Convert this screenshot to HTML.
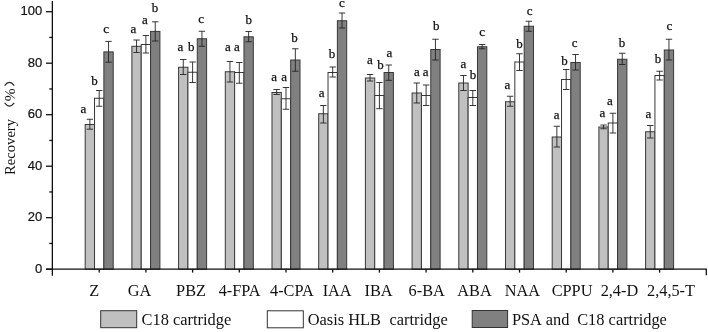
<!DOCTYPE html><html><head><meta charset="utf-8"><style>html,body{margin:0;padding:0;background:#fff;overflow:hidden;}svg{display:block;filter:blur(0.3px);}</style></head><body>
<svg width="708" height="332" viewBox="0 0 708 332">
<rect width="708" height="332" fill="#fff"/>
<g stroke="#383838" stroke-width="1">
<rect x="85.19" y="124.50" width="9.34" height="144.70" fill="#c0c0c0"/>
<rect x="94.53" y="98.25" width="9.34" height="170.95" fill="#ffffff"/>
<rect x="103.87" y="51.90" width="9.34" height="217.30" fill="#808080"/>
<rect x="131.89" y="46.30" width="9.34" height="222.90" fill="#c0c0c0"/>
<rect x="141.23" y="44.50" width="9.34" height="224.70" fill="#ffffff"/>
<rect x="150.57" y="31.40" width="9.34" height="237.80" fill="#808080"/>
<rect x="178.59" y="67.25" width="9.34" height="201.95" fill="#c0c0c0"/>
<rect x="187.93" y="72.25" width="9.34" height="196.95" fill="#ffffff"/>
<rect x="197.27" y="38.75" width="9.34" height="230.45" fill="#808080"/>
<rect x="225.29" y="71.75" width="9.34" height="197.45" fill="#c0c0c0"/>
<rect x="234.63" y="72.50" width="9.34" height="196.70" fill="#ffffff"/>
<rect x="243.97" y="36.80" width="9.34" height="232.40" fill="#808080"/>
<rect x="271.99" y="92.50" width="9.34" height="176.70" fill="#c0c0c0"/>
<rect x="281.33" y="98.75" width="9.34" height="170.45" fill="#ffffff"/>
<rect x="290.67" y="60.00" width="9.34" height="209.20" fill="#808080"/>
<rect x="318.69" y="113.75" width="9.34" height="155.45" fill="#c0c0c0"/>
<rect x="328.03" y="72.50" width="9.34" height="196.70" fill="#ffffff"/>
<rect x="337.37" y="20.75" width="9.34" height="248.45" fill="#808080"/>
<rect x="365.39" y="78.00" width="9.34" height="191.20" fill="#c0c0c0"/>
<rect x="374.73" y="95.50" width="9.34" height="173.70" fill="#ffffff"/>
<rect x="384.07" y="72.50" width="9.34" height="196.70" fill="#808080"/>
<rect x="412.09" y="93.00" width="9.34" height="176.20" fill="#c0c0c0"/>
<rect x="421.43" y="95.50" width="9.34" height="173.70" fill="#ffffff"/>
<rect x="430.77" y="49.50" width="9.34" height="219.70" fill="#808080"/>
<rect x="458.79" y="83.00" width="9.34" height="186.20" fill="#c0c0c0"/>
<rect x="468.13" y="97.50" width="9.34" height="171.70" fill="#ffffff"/>
<rect x="477.47" y="46.75" width="9.34" height="222.45" fill="#808080"/>
<rect x="505.49" y="101.75" width="9.34" height="167.45" fill="#c0c0c0"/>
<rect x="514.83" y="62.00" width="9.34" height="207.20" fill="#ffffff"/>
<rect x="524.17" y="26.25" width="9.34" height="242.95" fill="#808080"/>
<rect x="552.19" y="137.00" width="9.34" height="132.20" fill="#c0c0c0"/>
<rect x="561.53" y="79.50" width="9.34" height="189.70" fill="#ffffff"/>
<rect x="570.87" y="62.50" width="9.34" height="206.70" fill="#808080"/>
<rect x="598.89" y="127.00" width="9.34" height="142.20" fill="#c0c0c0"/>
<rect x="608.23" y="123.00" width="9.34" height="146.20" fill="#ffffff"/>
<rect x="617.57" y="59.25" width="9.34" height="209.95" fill="#808080"/>
<rect x="645.59" y="131.75" width="9.34" height="137.45" fill="#c0c0c0"/>
<rect x="654.93" y="75.50" width="9.34" height="193.70" fill="#ffffff"/>
<rect x="664.27" y="50.00" width="9.34" height="219.20" fill="#808080"/>
</g>
<g stroke="#222" stroke-width="0.9" fill="none">
<path d="M89.86 119.25V129.20M86.66 119.25H93.06M86.66 129.20H93.06"/>
<path d="M99.20 90.50V106.25M96.00 90.50H102.40M96.00 106.25H102.40"/>
<path d="M108.54 41.40V62.20M105.34 41.40H111.74M105.34 62.20H111.74"/>
<path d="M136.56 40.00V52.50M133.36 40.00H139.76M133.36 52.50H139.76"/>
<path d="M145.90 35.50V53.00M142.70 35.50H149.10M142.70 53.00H149.10"/>
<path d="M155.24 21.80V41.00M152.04 21.80H158.44M152.04 41.00H158.44"/>
<path d="M183.26 59.50V74.50M180.06 59.50H186.46M180.06 74.50H186.46"/>
<path d="M192.60 62.00V82.50M189.40 62.00H195.80M189.40 82.50H195.80"/>
<path d="M201.94 31.25V46.25M198.74 31.25H205.14M198.74 46.25H205.14"/>
<path d="M229.96 61.50V82.00M226.76 61.50H233.16M226.76 82.00H233.16"/>
<path d="M239.30 62.50V83.25M236.10 62.50H242.50M236.10 83.25H242.50"/>
<path d="M248.64 31.50V41.75M245.44 31.50H251.84M245.44 41.75H251.84"/>
<path d="M276.66 89.50V94.50M273.46 89.50H279.86M273.46 94.50H279.86"/>
<path d="M286.00 87.50V109.25M282.80 87.50H289.20M282.80 109.25H289.20"/>
<path d="M295.34 48.75V71.25M292.14 48.75H298.54M292.14 71.25H298.54"/>
<path d="M323.36 105.50V123.00M320.16 105.50H326.56M320.16 123.00H326.56"/>
<path d="M332.70 67.00V77.00M329.50 67.00H335.90M329.50 77.00H335.90"/>
<path d="M342.04 13.00V28.00M338.84 13.00H345.24M338.84 28.00H345.24"/>
<path d="M370.06 74.50V81.00M366.86 74.50H373.26M366.86 81.00H373.26"/>
<path d="M379.40 82.50V108.70M376.20 82.50H382.60M376.20 108.70H382.60"/>
<path d="M388.74 65.00V80.30M385.54 65.00H391.94M385.54 80.30H391.94"/>
<path d="M416.76 83.00V103.00M413.56 83.00H419.96M413.56 103.00H419.96"/>
<path d="M426.10 85.00V105.50M422.90 85.00H429.30M422.90 105.50H429.30"/>
<path d="M435.44 39.25V60.00M432.24 39.25H438.64M432.24 60.00H438.64"/>
<path d="M463.46 75.50V90.50M460.26 75.50H466.66M460.26 90.50H466.66"/>
<path d="M472.80 90.50V105.50M469.60 90.50H476.00M469.60 105.50H476.00"/>
<path d="M482.14 44.50V48.75M478.94 44.50H485.34M478.94 48.75H485.34"/>
<path d="M510.16 96.25V106.25M506.96 96.25H513.36M506.96 106.25H513.36"/>
<path d="M519.50 53.75V70.50M516.30 53.75H522.70M516.30 70.50H522.70"/>
<path d="M528.84 21.25V31.25M525.64 21.25H532.04M525.64 31.25H532.04"/>
<path d="M556.86 126.25V147.00M553.66 126.25H560.06M553.66 147.00H560.06"/>
<path d="M566.20 69.50V89.50M563.00 69.50H569.40M563.00 89.50H569.40"/>
<path d="M575.54 54.50V70.00M572.34 54.50H578.74M572.34 70.00H578.74"/>
<path d="M603.56 125.00V128.75M600.36 125.00H606.76M600.36 128.75H606.76"/>
<path d="M612.90 113.25V133.00M609.70 113.25H616.10M609.70 133.00H616.10"/>
<path d="M622.24 53.25V64.50M619.04 53.25H625.44M619.04 64.50H625.44"/>
<path d="M650.26 125.50V138.00M647.06 125.50H653.46M647.06 138.00H653.46"/>
<path d="M659.60 71.25V80.00M656.40 71.25H662.80M656.40 80.00H662.80"/>
<path d="M668.94 39.25V60.00M665.74 39.25H672.14M665.74 60.00H672.14"/>
</g>
<g stroke="#111" stroke-width="1.3" fill="none">
<path d="M52.35 1V275.7"/>
<path d="M46 269.2H706.3V275.3"/>
<path d="M46 269.20H52.35"/>
<path d="M46 217.70H52.35"/>
<path d="M46 166.20H52.35"/>
<path d="M46 114.70H52.35"/>
<path d="M46 63.20H52.35"/>
<path d="M46 11.70H52.35"/>
<path d="M49.3 243.45H52.35"/>
<path d="M49.3 191.95H52.35"/>
<path d="M49.3 140.45H52.35"/>
<path d="M49.3 88.95H52.35"/>
<path d="M49.3 37.45H52.35"/>
<path d="M99.20 269.2V272.6"/>
<path d="M145.90 269.2V272.6"/>
<path d="M192.60 269.2V272.6"/>
<path d="M239.30 269.2V272.6"/>
<path d="M286.00 269.2V272.6"/>
<path d="M332.70 269.2V272.6"/>
<path d="M379.40 269.2V272.6"/>
<path d="M426.10 269.2V272.6"/>
<path d="M472.80 269.2V272.6"/>
<path d="M519.50 269.2V272.6"/>
<path d="M566.20 269.2V272.6"/>
<path d="M612.90 269.2V272.6"/>
<path d="M659.60 269.2V272.6"/>
</g>
<g font-family="Liberation Sans, sans-serif" font-size="13" fill="#111" stroke="#111" stroke-width="0.2" text-anchor="end">
<text x="42.3" y="272.80">0</text>
<text x="42.3" y="221.30">20</text>
<text x="42.3" y="169.80">40</text>
<text x="42.3" y="118.30">60</text>
<text x="42.3" y="66.80">80</text>
<text x="42.3" y="15.30">100</text>
</g>
<g font-family="Liberation Serif, serif" font-size="16.3" fill="#111" text-anchor="middle">
<text x="94.20" y="295.5">Z</text>
<text x="139.45" y="295.5">GA</text>
<text x="191.05" y="295.5">PBZ</text>
<text x="239.65" y="295.5">4-FPA</text>
<text x="291.95" y="295.5">4-CPA</text>
<text x="337.10" y="295.5">IAA</text>
<text x="378.55" y="295.5">IBA</text>
<text x="426.70" y="295.5">6-BA</text>
<text x="474.50" y="295.5">ABA</text>
<text x="522.50" y="295.5">NAA</text>
<text x="572.05" y="295.5">CPPU</text>
<text x="619.40" y="295.5">2,4-D</text>
<text x="671.00" y="295.5">2,4,5-T</text>
</g>
<g font-family="Liberation Serif, serif" font-size="13" fill="#111" stroke="#111" stroke-width="0.25" text-anchor="middle">
<text x="83.40" y="113.20">a</text>
<text x="94.60" y="84.70">b</text>
<text x="106.10" y="33.20">c</text>
<text x="133.30" y="33.20">a</text>
<text x="144.85" y="24.40">a</text>
<text x="154.95" y="11.70">b</text>
<text x="180.45" y="50.90">a</text>
<text x="191.35" y="50.90">b</text>
<text x="201.25" y="23.30">c</text>
<text x="227.85" y="51.40">a</text>
<text x="236.80" y="51.40">a</text>
<text x="248.75" y="24.00">b</text>
<text x="274.10" y="80.70">a</text>
<text x="284.10" y="80.70">a</text>
<text x="294.60" y="41.50">b</text>
<text x="321.60" y="96.50">a</text>
<text x="331.90" y="58.20">b</text>
<text x="341.90" y="6.50">c</text>
<text x="370.00" y="64.00">a</text>
<text x="380.60" y="69.00">b</text>
<text x="389.40" y="56.50">a</text>
<text x="416.90" y="75.70">a</text>
<text x="425.60" y="75.70">a</text>
<text x="436.25" y="29.50">b</text>
<text x="463.40" y="68.20">a</text>
<text x="472.90" y="79.00">b</text>
<text x="482.10" y="35.70">c</text>
<text x="507.50" y="89.00">a</text>
<text x="519.60" y="47.50">b</text>
<text x="529.60" y="14.50">c</text>
<text x="556.60" y="119.00">a</text>
<text x="564.40" y="65.00">b</text>
<text x="574.75" y="47.00">c</text>
<text x="602.50" y="117.00">a</text>
<text x="610.00" y="105.00">a</text>
<text x="621.90" y="47.00">b</text>
<text x="648.40" y="118.20">a</text>
<text x="658.10" y="63.20">b</text>
<text x="669.40" y="30.00">c</text>
</g>
<g font-family="Liberation Serif, serif" font-size="14.6" fill="#111">
<text transform="translate(14.6 174.9) rotate(-90)">Recovery</text>
<text font-size="15.5" transform="translate(15.2 101.2) rotate(-90)">%</text>
</g>
<path d="M4.6 85.6Q9.4 79.2 14.3 85.6M4.6 102.9Q9.4 109.3 14.3 102.9" fill="none" stroke="#222" stroke-width="1.1"/>
<g stroke="#333" stroke-width="1">
<rect x="100.7" y="310.7" width="36" height="17" fill="#c0c0c0"/>
<rect x="267.3" y="310.8" width="36" height="17" fill="#fff"/>
<rect x="472.2" y="310.5" width="35.4" height="17" fill="#808080"/>
</g>
<g font-family="Liberation Serif, serif" font-size="16.4" fill="#111">
<text x="141.6" y="324.9">C18 cartridge</text>
<text x="307.7" y="324.9">Oasis HLB</text>
<text x="389.5" y="324.9">cartridge</text>
<text x="511.9" y="324.9">PSA</text>
<text x="545.8" y="324.9">and</text>
<text x="577.2" y="324.9">C18 cartridge</text>
</g>
</svg></body></html>
